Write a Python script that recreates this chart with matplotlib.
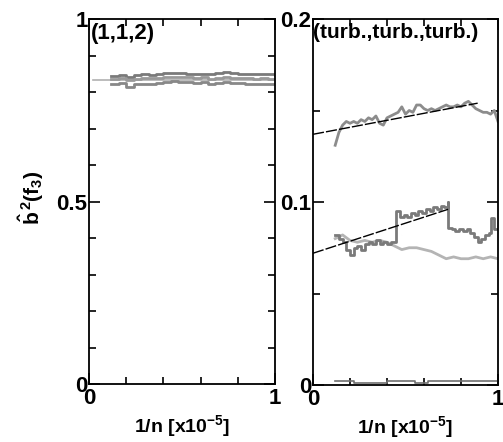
import numpy as np
import matplotlib
matplotlib.use("Agg")
import matplotlib.pyplot as plt
from matplotlib.ticker import MultipleLocator, FixedLocator

plt.rcParams['font.family'] = ['Liberation Sans', 'DejaVu Sans']
plt.rcParams['font.weight'] = 'bold'
plt.rcParams['mathtext.fontset'] = 'custom'
plt.rcParams['mathtext.rm'] = 'Liberation Sans:bold'
plt.rcParams['mathtext.it'] = 'Liberation Sans:bold'
plt.rcParams['mathtext.bf'] = 'Liberation Sans:bold'

# ---- left panel (1,1,2) ----
x_left = [0.12, 0.16, 0.20, 0.24, 0.28, 0.32, 0.36, 0.40, 0.44, 0.48, 0.52, 0.56,
          0.60, 0.64, 0.68, 0.72, 0.76, 0.80, 0.84, 0.88, 0.92, 0.96, 1.00]
left_upper = [0.845, 0.847, 0.840, 0.846, 0.848, 0.846, 0.850, 0.853, 0.852, 0.851, 0.850, 0.849,
              0.850, 0.848, 0.852, 0.854, 0.851, 0.850, 0.849, 0.850, 0.848, 0.849, 0.847]
left_mid = [0.836, 0.838, 0.832, 0.835, 0.837, 0.838, 0.837, 0.840, 0.842, 0.841, 0.840, 0.839,
            0.841, 0.836, 0.838, 0.840, 0.838, 0.837, 0.838, 0.836, 0.837, 0.835, 0.836]
left_lower = [0.822, 0.824, 0.815, 0.821, 0.823, 0.822, 0.824, 0.828, 0.829, 0.828, 0.827, 0.826,
              0.827, 0.823, 0.825, 0.827, 0.826, 0.825, 0.822, 0.823, 0.821, 0.823, 0.822]
left_flat_x = [0.02, 1.0]
left_flat_y = [0.833, 0.833]

# ---- right panel (turb.,turb.,turb.) ----
x_up = [0.12, 0.14, 0.16, 0.18, 0.20, 0.22, 0.24, 0.26, 0.28, 0.30, 0.32, 0.34, 0.36, 0.38,
        0.40, 0.42, 0.44, 0.46, 0.48, 0.50, 0.52, 0.54, 0.56, 0.58, 0.60, 0.62, 0.64, 0.66,
        0.68, 0.70, 0.72, 0.74, 0.76, 0.78, 0.80, 0.82, 0.84, 0.86, 0.88, 0.90, 0.92, 0.94,
        0.96, 0.98, 1.00]
y_up = [0.131, 0.138, 0.142, 0.144, 0.143, 0.144, 0.143, 0.145, 0.144, 0.146, 0.145, 0.147,
        0.143, 0.142, 0.146, 0.147, 0.148, 0.149, 0.152, 0.148, 0.150, 0.149, 0.153, 0.153,
        0.151, 0.150, 0.151, 0.150, 0.151, 0.152, 0.153, 0.152, 0.152, 0.153, 0.152, 0.154,
        0.155, 0.153, 0.151, 0.150, 0.149, 0.149, 0.148, 0.150, 0.144]
fit_up_x = [0.0, 0.89]
fit_up_y = [0.137, 0.154]

x_dark = [0.12, 0.14, 0.16, 0.18, 0.20, 0.22, 0.24, 0.26, 0.28, 0.30, 0.32, 0.34, 0.36, 0.38,
          0.40, 0.42, 0.44, 0.45, 0.47, 0.49, 0.51, 0.53, 0.55, 0.57, 0.59, 0.61, 0.63, 0.65,
          0.67, 0.69, 0.71, 0.73, 0.731, 0.75, 0.77, 0.79, 0.81, 0.83, 0.85, 0.87, 0.89, 0.91,
          0.93, 0.95, 0.96, 0.98, 1.00]
y_dark = [0.082, 0.080, 0.078, 0.074, 0.071, 0.075, 0.076, 0.074, 0.077, 0.078, 0.077, 0.079,
          0.077, 0.078, 0.077, 0.078, 0.078, 0.095, 0.092, 0.093, 0.092, 0.094, 0.093, 0.095,
          0.094, 0.096, 0.095, 0.097, 0.096, 0.098, 0.097, 0.100, 0.086, 0.085, 0.084, 0.085,
          0.084, 0.085, 0.083, 0.081, 0.078, 0.080, 0.082, 0.083, 0.091, 0.085, 0.085]
x_light = [0.12, 0.16, 0.20, 0.24, 0.28, 0.32, 0.36, 0.40, 0.44, 0.48, 0.52, 0.56,
           0.60, 0.64, 0.68, 0.72, 0.76, 0.80, 0.84, 0.88, 0.92, 0.96, 1.00]
y_light = [0.080, 0.082, 0.079, 0.078, 0.079, 0.078, 0.079, 0.078, 0.076, 0.074, 0.075, 0.075,
           0.074, 0.073, 0.071, 0.069, 0.070, 0.069, 0.069, 0.070, 0.069, 0.070, 0.069]
fit_low_x = [0.0, 0.73]
fit_low_y = [0.072, 0.096]

x_zero = [0.12, 0.20, 0.22, 0.40, 0.55, 0.62, 0.80, 1.00]
y_zero = [0.002, 0.002, 0.001, 0.002, 0.001, 0.002, 0.002, 0.002]

left_yticks = [0, 0.5, 1]
left_ylabels = ['0', '0.5', '1']
right_yticks = [0, 0.1, 0.2]
right_ylabels = ['0', '0.1', '0.2']
xticks = [0, 1]
xlabels = ['0', '1']

fig = plt.figure(figsize=(5.03, 4.42), dpi=100)
axL = fig.add_axes([89 / 503, 58 / 442, 186 / 503, 365 / 442])
axR = fig.add_axes([313 / 503, 57 / 442, 185 / 503, 366 / 442])

axL.plot(left_flat_x, left_flat_y, color='#b0b0b0', lw=1.2)
axL.plot(x_left, left_upper, color='#7a7a7a', lw=2, drawstyle='steps-post')
axL.plot(x_left, left_mid, color='#999999', lw=2, drawstyle='steps-post')
axL.plot(x_left, left_lower, color='#888888', lw=2, drawstyle='steps-post')

axR.plot(x_up, y_up, color='#8c8c8c', lw=2)
axR.plot(fit_up_x, fit_up_y, color='black', lw=1, ls=(0, (8, 1.5)))
axR.plot(x_light, y_light, color='#b4b4b4', lw=2)
axR.plot(x_dark, y_dark, color='#7a7a7a', lw=2, drawstyle='steps-post')
axR.plot(fit_low_x, fit_low_y, color='black', lw=1, ls=(0, (8, 1.5)))
axR.plot(x_zero, y_zero, color='#707070', lw=1.2, drawstyle='steps-post')

for ax, ytop, yticks, ylabels, yminor in [
        (axL, 1.0, left_yticks, left_ylabels, 0.1),
        (axR, 0.2, right_yticks, right_ylabels, 0.05)]:
    ax.set_xlim(0, 1)
    ax.set_ylim(0, ytop)
    ax.xaxis.set_major_locator(FixedLocator(xticks))
    ax.xaxis.set_minor_locator(MultipleLocator(0.2))
    ax.set_xticklabels(xlabels)
    ax.yaxis.set_major_locator(FixedLocator(yticks))
    ax.yaxis.set_minor_locator(MultipleLocator(yminor))
    ax.set_yticklabels(ylabels)
    ax.tick_params(which='both', direction='in', top=True, right=True,
                   labelsize=16, width=1.2)
    ax.tick_params(axis='y', pad=1)
    ax.tick_params(axis='x', pad=3)
    ax.tick_params(which='major', length=8)
    ax.tick_params(which='minor', length=5)
    for s in ax.spines.values():
        s.set_linewidth(1.3)
    ax.set_xlabel(r'1/n [x10$^{-5}$]', fontsize=14, fontweight='bold', labelpad=3)

axL.text(0.01, 0.99, '(1,1,2)', transform=axL.transAxes, fontsize=16,
         fontweight='bold', va='top', ha='left')
axR.text(0.0, 0.99, '(turb.,turb.,turb.)', transform=axR.transAxes, fontsize=15,
         fontweight='bold', va='top', ha='left')

fig.text(31 / 503, 1 - 198 / 442, r'$\hat{b}^{\,2}(f_3)$', rotation=90, fontsize=15,
         ha='center', va='center')

fig.savefig('out.png', dpi=100)
